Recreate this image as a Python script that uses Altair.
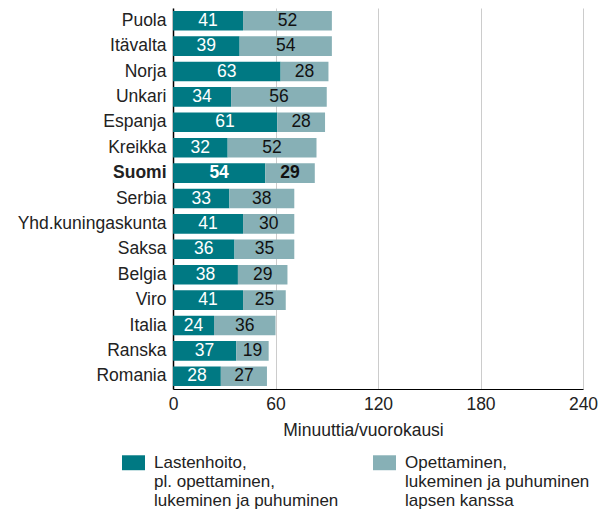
import altair as alt
import pandas as pd

countries = ["Puola", "Itävalta", "Norja", "Unkari", "Espanja", "Kreikka", "Suomi",
             "Serbia", "Yhd.kuningaskunta", "Saksa", "Belgia", "Viro", "Italia",
             "Ranska", "Romania"]
childcare = [41, 39, 63, 34, 61, 32, 54, 33, 41, 36, 38, 41, 24, 37, 28]
teaching = [52, 54, 28, 56, 28, 52, 29, 38, 30, 35, 29, 25, 36, 19, 27]
series = ["Lastenhoito,|pl. opettaminen,|lukeminen ja puhuminen",
          "Opettaminen,|lukeminen ja puhuminen|lapsen kanssa"]
colors = ["#007983", "#87b0b6"]
x_ticks = [0, 60, 120, 180, 240]
highlight = "Suomi"

rows = []
for c, a, b in zip(countries, childcare, teaching):
    rows.append({"country": c, "series": series[0], "value": a, "order": 0})
    rows.append({"country": c, "series": series[1], "value": b, "order": 1})
df = pd.DataFrame(rows)

FONT = "Liberation Sans"
FS = 17.5
LFS = 17

base = alt.Chart(df).transform_stack(
    stack="value", groupby=["country"], as_=["x0", "x1"],
    sort=[alt.SortField("order", order="ascending")]
).transform_calculate(mid="(datum.x0 + datum.x1) / 2")

y_enc = alt.Y(
    "country:N", sort=countries, title=None,
    scale=alt.Scale(paddingInner=0.23, paddingOuter=0.115),
    axis=alt.Axis(
        labelFontSize=FS, labelColor="#222222", labelFont=FONT,
        ticks=False, labelPadding=7, domainColor="#000000", domainWidth=1.5,
        labelFontWeight={"condition": {"test": f"datum.value === '{highlight}'", "value": "bold"},
                         "value": "normal"},
        labelLimit=300,
    ),
)

bars = base.mark_bar().encode(
    y=y_enc,
    x=alt.X("x0:Q", scale=alt.Scale(domain=[0, 240], nice=False),
            title="Minuuttia/vuorokausi",
            axis=alt.Axis(values=x_ticks, ticks=False, labelFontSize=FS, labelFont=FONT,
                          labelColor="#222222", labelPadding=6, labelFlush=False,
                          titleFontSize=FS,
                          titleFont=FONT, titleFontWeight="normal", titleColor="#222222",
                          titlePadding=9, gridColor="#cccccc", domainColor="#000000",
                          titleX=190)),
    x2="x1:Q",
    color=alt.Color("series:N", scale=alt.Scale(domain=series, range=colors),
                    legend=alt.Legend(
                        title=None, orient="none", legendX=-51, legendY=443,
                        direction="horizontal", columns=2, columnPadding=34,
                        symbolType="M-1,-0.65H1V0.65H-1Z", symbolSize=529,
                        symbolStrokeWidth=0, symbolOpacity=1,
                        labelFontSize=LFS, labelFont=FONT, labelColor="#222222",
                        labelOffset=9, labelLimit=400,
                        labelExpr="split(datum.label, '|')")),
)

def text_layer(weight, test):
    return base.transform_filter(test).mark_text(
        fontSize=FS, font=FONT, fontWeight=weight).encode(
        y=alt.Y("country:N", sort=countries),
        x=alt.X("mid:Q"),
        text=alt.Text("value:Q"),
        color=alt.condition("datum.order == 0", alt.value("white"), alt.value("#111111")),
    )

text_normal = text_layer("normal", f"datum.country != '{highlight}'")
text_bold = text_layer("bold", f"datum.country == '{highlight}'")

chart = alt.layer(bars, text_normal, text_bold).properties(
    width=410, height=381,
    autosize=alt.AutoSizeParams(type="none"),
    padding={"left": 165, "top": 0, "right": 17, "bottom": 120},
).configure_view(stroke=None)

chart.save("out.html", embed_options={"renderer": "svg", "actions": False})
